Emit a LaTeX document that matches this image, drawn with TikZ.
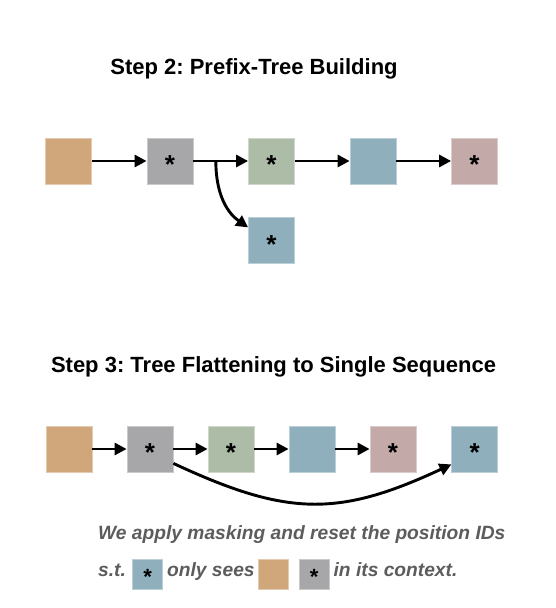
\documentclass[tikz,border=0pt]{standalone}
\usepackage{fontspec}
\setmainfont{Liberation Sans}
\usetikzlibrary{arrows.meta, positioning, calc}

\definecolor{tokTan}{HTML}{D0A67B}
\definecolor{tokGray}{HTML}{A7A7A9}
\definecolor{tokGreen}{HTML}{ADBCA7}
\definecolor{tokBlue}{HTML}{8FAFBC}
\definecolor{tokPink}{HTML}{C4A9A9}
\definecolor{noteGray}{HTML}{5C5C5C}

\newcommand{\maskstar}[1]{\fontsize{#1}{#1}\selectfont\bfseries\smash{\raisebox{-0.47em}{*}}}

\begin{document}
\frenchspacing
\begin{tikzpicture}[
		x=1pt, y=1pt,
		>={Triangle[length=12pt, width=12pt]},
		title/.style={font=\fontsize{22}{26}\selectfont\bfseries, inner sep=0pt, anchor=base},
		cell/.style={fill=#1, draw=#1!60!white, line width=0.8pt, minimum size=46pt, inner sep=0pt},
		mini/.style={fill=#1, draw=#1!60!white, line width=0.8pt, minimum size=30pt, inner sep=0pt},
		note/.style={font=\fontsize{19.2}{22}\selectfont\bfseries\itshape, text=noteGray, inner sep=0pt, text height=0.73em, text depth=0.21em},
		arr/.style={->, line width=2.9pt}
		]
		\useasboundingbox (0,0) rectangle (556,608);
		
		% --- Step 2: prefix tree ---
		\node[title] (title2) at (254,533) {Step 2: Prefix-Tree Building};
		
		\node[cell=tokTan]                      (p1) at (68.5,447) {};
		\node[cell=tokGray,  right=54.7pt of p1] (p2) {\maskstar{26}};
		\node[cell=tokGreen, right=54.7pt of p2] (p3) {\maskstar{26}};
		\node[cell=tokBlue,  right=54.7pt of p3] (p4) {};
		\node[cell=tokPink,  right=54.7pt of p4] (p5) {\maskstar{26}};
		\node[cell=tokBlue,  below=33pt of p3]   (p6) {\maskstar{26}};
		
		\draw[arr] (p1) -- (p2);
		\draw[arr] (p2) -- (p3);
		\draw[arr] (p3) -- (p4);
		\draw[arr] (p4) -- (p5);
		
		% branch leaves the p2-p3 edge
		\coordinate (fork) at ($(p2.east)!0.41!(p3.west)$);
		\draw[arr] (fork) to[out=-90, in=145] ([yshift=-10pt]p6.north west);
		
		% --- Step 3: flattened sequence ---
		\node[title] (title3) at (273.5,235) {Step 3: Tree Flattening to Single Sequence};
		
		\node[cell=tokTan]                       (g1) at (69,159) {};
		\node[cell=tokGray,  right=34.2pt of g1] (g2) {\maskstar{26}};
		\node[cell=tokGreen, right=34.2pt of g2] (g3) {\maskstar{26}};
		\node[cell=tokBlue,  right=34.2pt of g3] (g4) {};
		\node[cell=tokPink,  right=34.2pt of g4] (g5) {\maskstar{26}};
		\node[cell=tokBlue,  right=35pt of g5]   (g6) {\maskstar{26}};
		
		\draw[arr] (g1) -- (g2);
		\draw[arr] (g2) -- (g3);
		\draw[arr] (g3) -- (g4);
		\draw[arr] (g4) -- (g5);
		\draw[arr] ([yshift=9pt]g2.south east) to[out=-25, in=205, looseness=1.15] ([yshift=8pt]g6.south west);
		
		% --- Explanation ---
		\node[note, anchor=base west] (line1) at (98,68) {We apply masking and reset the position IDs};
		\node[note, anchor=base west] (st) at (98,31) {s.t.};
		\node[mini=tokBlue, right=6pt of st]  (mq) {\maskstar{22}};
		\node[note, right=4pt of mq]          (sees) {only sees};
		\node[mini=tokTan,  right=3pt of sees] (mt) {};
		\node[mini=tokGray, right=10pt of mt]  (mg) {\maskstar{22}};
		\node[note, right=4pt of mg]          (ctx) {in its context.};
		
	\end{tikzpicture}
\end{document}
